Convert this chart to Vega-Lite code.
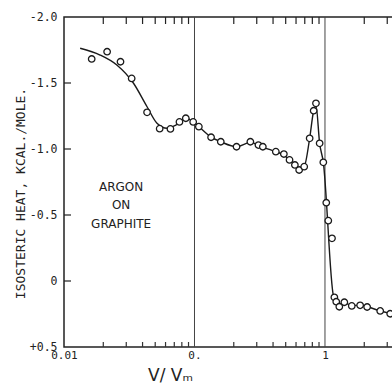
{
  "$schema": "https://vega.github.io/schema/vega-lite/v6.json",
  "autosize": {"type": "none"},
  "padding": {"left": 64, "top": 17, "right": 0, "bottom": 36},
  "width": 330,
  "height": 330,
  "background": "white",
  "config": {
    "view": {"stroke": "#222", "strokeWidth": 1.5},
    "axis": {
      "labelFont": "DejaVu Sans Mono",
      "labelFontSize": 11,
      "labelColor": "#222",
      "titleFont": "DejaVu Sans Mono",
      "titleColor": "#222",
      "titleFontWeight": "normal",
      "ticks": false,
      "domain": false,
      "grid": false
    }
  },
  "datasets": {
    "measured": [
      {"v": 0.0163, "q": -1.682},
      {"v": 0.0214, "q": -1.737},
      {"v": 0.0271, "q": -1.661},
      {"v": 0.033, "q": -1.535},
      {"v": 0.0433, "q": -1.278},
      {"v": 0.0541, "q": -1.154},
      {"v": 0.0654, "q": -1.152},
      {"v": 0.0767, "q": -1.205},
      {"v": 0.0858, "q": -1.233},
      {"v": 0.0977, "q": -1.205},
      {"v": 0.108, "q": -1.169},
      {"v": 0.134, "q": -1.089},
      {"v": 0.159, "q": -1.055},
      {"v": 0.21, "q": -1.017},
      {"v": 0.268, "q": -1.055},
      {"v": 0.309, "q": -1.03},
      {"v": 0.334, "q": -1.017},
      {"v": 0.42, "q": -0.98},
      {"v": 0.484, "q": -0.962},
      {"v": 0.535, "q": -0.917},
      {"v": 0.588, "q": -0.879},
      {"v": 0.634, "q": -0.841},
      {"v": 0.693, "q": -0.866},
      {"v": 0.763, "q": -1.081},
      {"v": 0.819, "q": -1.29},
      {"v": 0.853, "q": -1.346},
      {"v": 0.91, "q": -1.043},
      {"v": 0.971, "q": -0.899},
      {"v": 1.023, "q": -0.593},
      {"v": 1.06, "q": -0.457},
      {"v": 1.132, "q": -0.323},
      {"v": 1.18, "q": 0.124},
      {"v": 1.22, "q": 0.157},
      {"v": 1.288, "q": 0.195},
      {"v": 1.407, "q": 0.161},
      {"v": 1.604, "q": 0.189},
      {"v": 1.859, "q": 0.184},
      {"v": 2.104, "q": 0.197},
      {"v": 2.65, "q": 0.227},
      {"v": 3.16, "q": 0.248}
    ],
    "curve": [
      {"v": 0.0133, "q": -1.763},
      {"v": 0.0189, "q": -1.712},
      {"v": 0.0254, "q": -1.636},
      {"v": 0.0341, "q": -1.498},
      {"v": 0.0433, "q": -1.32},
      {"v": 0.0516, "q": -1.195},
      {"v": 0.0617, "q": -1.157},
      {"v": 0.072, "q": -1.18},
      {"v": 0.0858, "q": -1.235},
      {"v": 0.098, "q": -1.205},
      {"v": 0.109, "q": -1.165},
      {"v": 0.134, "q": -1.09},
      {"v": 0.159, "q": -1.055},
      {"v": 0.21, "q": -1.017},
      {"v": 0.268, "q": -1.05},
      {"v": 0.309, "q": -1.03},
      {"v": 0.334, "q": -1.015},
      {"v": 0.42, "q": -0.98},
      {"v": 0.484, "q": -0.955},
      {"v": 0.535, "q": -0.915},
      {"v": 0.588, "q": -0.878},
      {"v": 0.634, "q": -0.845},
      {"v": 0.693, "q": -0.866},
      {"v": 0.763, "q": -1.081},
      {"v": 0.819, "q": -1.29},
      {"v": 0.853, "q": -1.33},
      {"v": 0.91, "q": -1.043},
      {"v": 0.971, "q": -0.899},
      {"v": 1.16, "q": 0.11},
      {"v": 1.22, "q": 0.15},
      {"v": 1.288, "q": 0.185},
      {"v": 1.407, "q": 0.165},
      {"v": 1.604, "q": 0.185},
      {"v": 1.859, "q": 0.185},
      {"v": 2.104, "q": 0.195},
      {"v": 2.65, "q": 0.227},
      {"v": 3.16, "q": 0.245}
    ],
    "decades": [{"v": 0.1}, {"v": 1}],
    "minorTicks": [
      {"v": 0.02}, {"v": 0.03}, {"v": 0.04}, {"v": 0.05}, {"v": 0.06}, {"v": 0.07}, {"v": 0.08}, {"v": 0.09},
      {"v": 0.2}, {"v": 0.3}, {"v": 0.4}, {"v": 0.5}, {"v": 0.6}, {"v": 0.7}, {"v": 0.8}, {"v": 0.9},
      {"v": 2}, {"v": 3}
    ],
    "heatTicks": [{"q": -1.5}, {"q": -1}, {"q": -0.5}, {"q": 0}],
    "caption": [
      {"v": 0.0274, "q": -0.712, "text": "ARGON"},
      {"v": 0.0274, "q": -0.576, "text": "ON"},
      {"v": 0.0274, "q": -0.432, "text": "GRAPHITE"}
    ]
  },
  "layer": [
    {
      "data": {"name": "minorTicks"},
      "mark": {"type": "rule", "color": "#222", "strokeWidth": 1.2},
      "encoding": {
        "x": {
          "field": "v",
          "type": "quantitative",
          "scale": {"type": "log", "domain": [0.01, 3.38], "nice": false},
          "axis": {
            "orient": "bottom",
            "title": "V/ Vₘ",
            "titleFont": "DejaVu Sans",
            "titleFontSize": 17,
            "titleX": 106,
            "titleY": 33,
            "titleAnchor": null,
            "titleAlign": "center",
            "titleBaseline": "alphabetic",
            "values": [0.01, 0.1, 1],
            "labelExpr": "abs(datum.value - 0.01) < 1e-9 ? '0.01' : abs(datum.value - 0.1) < 1e-9 ? '0.' : '1'",
            "labelOverlap": false,
            "labelFlush": false,
            "labelPadding": 2
          }
        },
        "y": {
          "datum": -2,
          "type": "quantitative",
          "scale": {"domain": [-2, 0.5], "reverse": true, "nice": false, "zero": false},
          "axis": {
            "orient": "left",
            "title": "ISOSTERIC  HEAT,  KCAL./MOLE.",
            "titleFontSize": 13,
            "titleAngle": -90,
            "titleX": -44,
            "titleY": 176,
            "titleAlign": "center",
            "titleBaseline": "middle",
            "values": [-2, -1.5, -1, -0.5, 0, 0.5],
            "labelExpr": "datum.value == 0 ? '0' : datum.value > 0 ? '+' + format(datum.value, '.1f') : '-' + format(-datum.value, '.1f')",
            "labelFontSize": 11.5,
            "labelPadding": 7,
            "labelFlush": false,
            "labelOverlap": false
          }
        },
        "y2": {"datum": -1.947}
      }
    },
    {
      "data": {"name": "minorTicks"},
      "mark": {"type": "rule", "color": "#333", "strokeWidth": 1.2},
      "encoding": {
        "x": {"field": "v", "type": "quantitative"},
        "y": {"datum": 0.5, "type": "quantitative"},
        "y2": {"datum": 0.462}
      }
    },
    {
      "data": {"name": "heatTicks"},
      "mark": {"type": "rule", "color": "#222", "strokeWidth": 1.2},
      "encoding": {
        "y": {"field": "q", "type": "quantitative"},
        "x": {"datum": 0.01, "type": "quantitative"},
        "x2": {"datum": 0.01132}
      }
    },
    {
      "data": {"name": "decades"},
      "mark": {"type": "rule", "color": "#444", "strokeWidth": 1},
      "encoding": {
        "x": {"field": "v", "type": "quantitative"}
      }
    },
    {
      "data": {"name": "curve"},
      "mark": {"type": "line", "color": "#1a1a1a", "strokeWidth": 1.4, "interpolate": "monotone", "clip": true},
      "encoding": {
        "x": {"field": "v", "type": "quantitative"},
        "y": {"field": "q", "type": "quantitative"}
      }
    },
    {
      "data": {"name": "measured"},
      "mark": {"type": "point", "shape": "circle", "filled": false, "fill": "white", "fillOpacity": 1, "stroke": "#1a1a1a", "strokeWidth": 1.3, "size": 42, "clip": true},
      "encoding": {
        "x": {"field": "v", "type": "quantitative"},
        "y": {"field": "q", "type": "quantitative"}
      }
    },
    {
      "data": {"name": "caption"},
      "mark": {"type": "text", "font": "DejaVu Sans", "fontSize": 12, "color": "#222", "align": "center", "baseline": "middle"},
      "encoding": {
        "x": {"field": "v", "type": "quantitative"},
        "y": {"field": "q", "type": "quantitative"},
        "text": {"field": "text"}
      }
    }
  ]
}
